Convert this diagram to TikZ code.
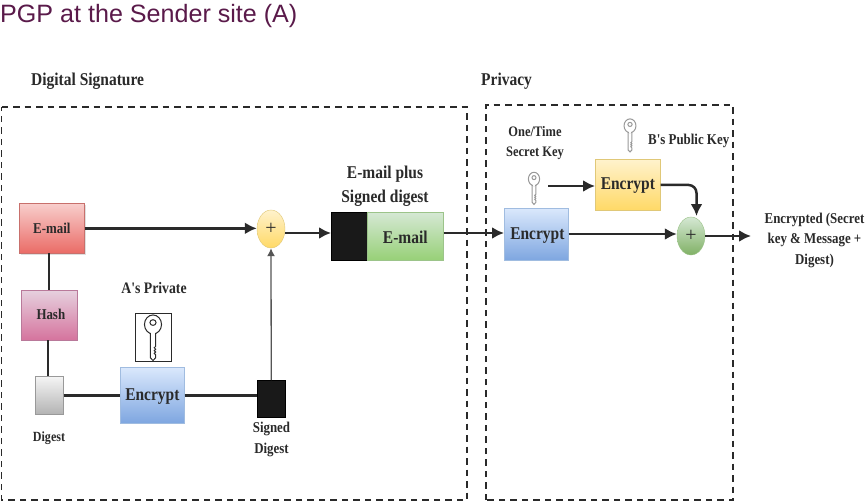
\documentclass[tikz,border=0pt]{standalone}
\usepackage{fontspec}
\setmainfont{Liberation Serif}
\newfontfamily\lbl[FakeStretch=0.86]{Liberation Serif}
\newfontfamily\ttl{Liberation Sans}
\usetikzlibrary{arrows.meta,shapes.geometric,shadows}
\definecolor{ttlc}{HTML}{5A1A4A}
\definecolor{ink}{HTML}{2A2A2A}
\definecolor{rT}{HTML}{F8CECC}\definecolor{rB}{HTML}{EA6B66}\definecolor{rD}{HTML}{C8706C}
\definecolor{pT}{HTML}{E6D0DE}\definecolor{pB}{HTML}{D5739D}\definecolor{pD}{HTML}{B9799A}
\definecolor{gT}{HTML}{F5F5F5}\definecolor{gB}{HTML}{B3B3B3}\definecolor{gD}{HTML}{999999}
\definecolor{bT}{HTML}{DAE8FC}\definecolor{bB}{HTML}{7EA6E0}\definecolor{bD}{HTML}{A0BCE0}
\definecolor{yT}{HTML}{FFF2CC}\definecolor{yB}{HTML}{FFD966}\definecolor{yD}{HTML}{E0C878}
\definecolor{nT}{HTML}{D5E8D4}\definecolor{nB}{HTML}{97D077}\definecolor{nD}{HTML}{9CC48A}
\tikzset{
  lab/.style={font=\lbl\bfseries\fontsize{#1}{#1}\selectfont,text=ink,inner sep=0pt,align=center},
  lab/.default=15,
  gbox/.style n args={3}{rectangle,draw=#3,top color=#1,bottom color=#2,line width=0.7pt,inner sep=0pt,anchor=north west},
  solid box/.style={rectangle,draw=black,fill=black!90,line width=0.5pt,inner sep=0pt,anchor=north west},
  conn/.style={draw=ink,line width=2.5pt},
  arr/.style={conn,-{Latex[length=12pt,width=12pt]}},
  thin arr/.style={draw=ink!80,line width=1.3pt,-{Latex[length=8pt,width=8pt]}},
  dbox/.style={draw=ink,line width=1.8pt,dash pattern=on 6.5pt off 5pt},
  plus/.style={ellipse,inner sep=0pt,minimum width=28pt,minimum height=38pt,font=\fontsize{20}{20}\selectfont,text=ink},
  keyline/.style={draw=#1,line width=1pt,fill=white},
}
\newcommand{\keyglyph}[5]{% x, y, xscale, yscale, colour
  \begin{scope}[shift={(#1,#2)},xscale=#3,yscale=#4]
    \path[keyline=#5] (-2.2,-2) -- (-2.2,26) -- (0,29) -- (2.2,26) -- (2.2,23) -- (1,21.5) -- (2.2,20) -- (1,18.5) -- (2.2,17) -- (1,15.5) -- (2.2,14) -- (2.2,-2) -- cycle;
    \path[keyline=#5] (0,-9) ellipse (7 and 10);
    \path[fill=white] (-1.7,-3) rectangle (1.7,2);
    \path[keyline=#5] (0,-11) ellipse (2.5 and 3);
  \end{scope}}
\begin{document}
\begin{tikzpicture}[x=1pt,y=-1pt]
\useasboundingbox (0,0) rectangle (865,503);
\fill[white] (0,0) rectangle (865,503);

\node[anchor=west,font=\ttl\fontsize{25.1}{25.1}\selectfont,text=ttlc,inner sep=0pt] (title) at (0,16) {PGP at the Sender site (A)};

\node[lab=18,anchor=west] (ds) at (31,81) {Digital Signature};
\node[lab=18,anchor=west] (pv) at (481,81) {Privacy};

\draw[dbox] (1.5,107) -- (467,107) -- (467,500) -- (1.5,500) -- cycle;
\draw[dbox] (486,500) -- (486,105) -- (733,105) -- (733,500) -- cycle;

\coordinate (jy) at (300,233);
\coordinate (jz) at (600,234);
% boxes
\node[gbox={rT}{rB}{rD},minimum width=65pt,minimum height=50pt,drop shadow={shadow xshift=1.5pt,shadow yshift=-1.5pt,opacity=.25}] (email) at (19,203) {};
\node[lab=15] at (email) {E-mail};
\node[gbox={pT}{pB}{pD},minimum width=56pt,minimum height=50pt] (hash) at (21,290) {};
\node[lab=15] at ([xshift=1.5pt,yshift=1pt]hash.center) {Hash};
\node[gbox={gT}{gB}{gD},minimum width=28pt,minimum height=38pt] (digest) at (35,376) {};
\node[gbox={bT}{bB}{bD},minimum width=64pt,minimum height=56pt] (encA) at (120,367) {};
\node[lab=18] at ([yshift=-1pt]encA.center) {Encrypt};
\node[solid box,minimum width=28pt,minimum height=37pt] (sd) at (257,380) {};
\node[plus,draw=yD,top color=yT,bottom color=yB] (p1) at (271,229) {+};
\node[solid box,minimum width=36pt,minimum height=48pt] (blk) at (331,212) {};
\node[gbox={nT}{nB}{nD},minimum width=76pt,minimum height=48pt] (gm) at (367,212) {};
\node[lab=18] at ([yshift=-1pt]gm.center) {E-mail};
\node[gbox={bT}{bB}{bD},minimum width=64pt,minimum height=52pt] (encB) at (504,208) {};
\node[lab=18] at ([xshift=1pt,yshift=-1pt]encB.center) {Encrypt};
\node[gbox={yT}{yB}{yD},minimum width=65pt,minimum height=51pt] (encO) at (595,159) {};
\node[lab=18] at ([yshift=-1pt]encO.center) {Encrypt};
\node[plus,draw=nD,top color=nT,bottom color=nB!85!black] (p2) at (691,236) {+};
\coordinate (out) at (751,236);

% connectors
\draw[conn] (49,253) -- (49,290);
\draw[conn] (48,340) -- (48,376);
\draw[conn] (digest.east) -- (encA.west);
\draw[conn] (encA.east) -- (encA.east -| sd.west);
\draw[thin arr] (sd.north) -- (p1.south);
\draw[arr] (email.east) -- (email.east -| p1.west);
\draw[arr] (p1.east |- jy) -- (blk.west |- jy);
\draw[arr] (gm.east |- jy) -- (encB.west |- jy);
\draw[arr] (encB.east |- jz) -- (p2.west |- jz);
\draw[arr] (p2.east) -- (out);
\draw[conn,-{Latex[length=12pt,width=12pt]},rounded corners=8pt] (encO.east) -- (696.5,185) -- (696.5,216);

% key in box
\node[draw=ink,line width=0.8pt,fill=white,minimum width=36pt,minimum height=48pt,inner sep=0pt,anchor=north west] (akey) at (135,313) {};
\keyglyph{153}{333}{1.22}{0.95}{ink}

% free keys
\coordinate (skey) at (548,186);
\keyglyph{534}{185}{0.8}{0.67}{gray!80}
\keyglyph{630}{132}{0.85}{0.69}{gray!80}
\draw[arr] (skey) -- (skey -| encO.west);

% labels
\node[lab=16] (apriv) at (154,288) {A's Private};
\node[lab=14] (dg) at (49,438) {Digest};
\node[lab=15] (sdl) at (271.5,439) {Signed\\[6pt]Digest};
\node[lab=18] (epl) at (385,186) {E-mail plus\\[6pt]Signed digest};
\node[lab=14.5] (otk) at (535,143) {One/Time\\[5pt]Secret Key};
\node[lab=15,anchor=west] (bpk) at (648,141) {B's Public Key};
\node[lab=15] (enc) at (814.5,240) {Encrypted (Secret\\[5.5pt]key \& Message +\\[5.5pt]Digest)};
\end{tikzpicture}
\end{document}
